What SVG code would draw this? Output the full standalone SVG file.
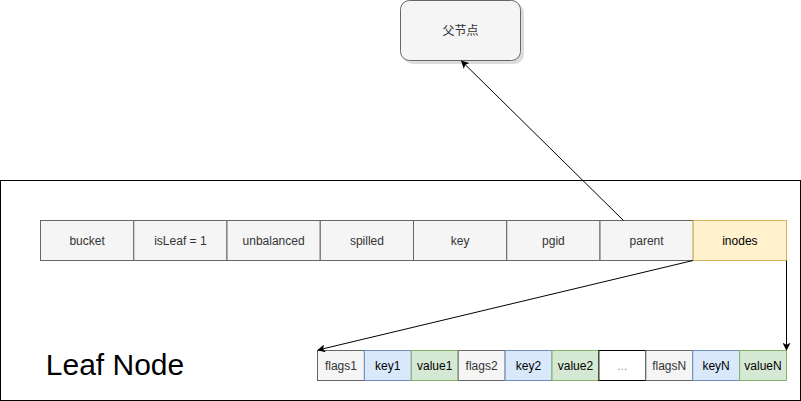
<svg xmlns="http://www.w3.org/2000/svg" width="801" height="401" viewBox="0 0 801 401">
<style>
text{font-family:"Liberation Sans",Arial,sans-serif;font-size:12px;text-anchor:middle;dominant-baseline:central}
.g{fill:#f5f5f5;stroke:#666666}
.gt{fill:#333333}
.y{fill:#fff2cc;stroke:#d6b656}
.b{fill:#dae8fc;stroke:#6c8ebf}
.v{fill:#d5e8d4;stroke:#82b366}
.w{fill:#ffffff;stroke:#000000}
.c{stroke:#000000;stroke-width:1;fill:none}
</style>
<defs>
<marker id="ah" viewBox="0 0 10 10" refX="9" refY="5" markerWidth="8" markerHeight="8" markerUnits="userSpaceOnUse" orient="auto">
<path d="M0,0 L10,5 L0,10 L2.5,5 Z" fill="#000"/>
</marker>
<filter id="sh" x="-10%" y="-10%" width="130%" height="130%">
<feOffset dx="3" dy="3" in="SourceAlpha" result="o"/>
<feColorMatrix in="o" type="matrix" values="0 0 0 0 0.5 0 0 0 0 0.5 0 0 0 0 0.5 0 0 0 0.5 0" result="c"/>
<feMerge><feMergeNode in="c"/><feMergeNode in="SourceGraphic"/></feMerge>
</filter>
</defs>
<rect x="0.5" y="180.5" width="800" height="220" fill="#ffffff" stroke="#000000"/>
<text x="115" y="364" style="font-size:30px" fill="#000">Leaf Node</text>
<g id="parent-node">
<rect x="400.5" y="0.5" width="120" height="60" rx="9" fill="#f5f5f5" stroke="#666666" filter="url(#sh)"/>
<text x="460.5" y="30.5" class="gt" style="font-family:'Liberation Sans','Noto Sans CJK SC',sans-serif">父节点</text>
</g>
<g id="node-struct">
<rect class="g" x="40.5" y="220.5" width="93.25" height="40"/><text class="gt" x="87.1" y="240.5">bucket</text>
<rect class="g" x="133.75" y="220.5" width="93.25" height="40"/><text class="gt" x="180.4" y="240.5">isLeaf = 1</text>
<rect class="g" x="227" y="220.5" width="93.25" height="40"/><text class="gt" x="273.6" y="240.5">unbalanced</text>
<rect class="g" x="320.25" y="220.5" width="93.25" height="40"/><text class="gt" x="366.9" y="240.5">spilled</text>
<rect class="g" x="413.5" y="220.5" width="93.25" height="40"/><text class="gt" x="460.1" y="240.5">key</text>
<rect class="g" x="506.75" y="220.5" width="93.25" height="40"/><text class="gt" x="553.4" y="240.5">pgid</text>
<rect class="g" x="600" y="220.5" width="93.25" height="40"/><text class="gt" x="646.6" y="240.5">parent</text>
<rect class="y" x="693.25" y="220.5" width="93.25" height="40"/><text x="739.9" y="240.5" fill="#000">inodes</text>
</g>
<g id="inodes">
<rect class="g" x="317.5" y="350.5" width="46.9" height="30"/><text class="gt" x="340.9" y="365.5">flags1</text>
<rect class="b" x="364.4" y="350.5" width="46.9" height="30"/><text x="387.8" y="365.5" fill="#000">key1</text>
<rect class="v" x="411.3" y="350.5" width="46.9" height="30"/><text x="434.7" y="365.5" fill="#000">value1</text>
<rect class="g" x="458.2" y="350.5" width="46.9" height="30"/><text class="gt" x="481.6" y="365.5">flags2</text>
<rect class="b" x="505.1" y="350.5" width="46.9" height="30"/><text x="528.5" y="365.5" fill="#000">key2</text>
<rect class="v" x="552" y="350.5" width="46.9" height="30"/><text x="575.4" y="365.5" fill="#000">value2</text>
<rect class="w" x="598.9" y="350.5" width="46.9" height="30"/><text x="622.3" y="365.5" fill="#999999">...</text>
<rect class="g" x="645.8" y="350.5" width="46.9" height="30"/><text class="gt" x="669.2" y="365.5">flagsN</text>
<rect class="b" x="692.7" y="350.5" width="46.9" height="30"/><text x="716.1" y="365.5" fill="#000">keyN</text>
<rect class="v" x="739.6" y="350.5" width="46.9" height="30"/><text x="763" y="365.5" fill="#000">valueN</text>
</g>
<g id="connectors">
<line class="c" x1="623.5" y1="220.5" x2="461.5" y2="61" marker-end="url(#ah)"/>
<line class="c" x1="693" y1="260.5" x2="318" y2="350" marker-end="url(#ah)"/>
<line class="c" x1="786.5" y1="260.5" x2="786.5" y2="350" marker-end="url(#ah)"/>
</g>
</svg>
